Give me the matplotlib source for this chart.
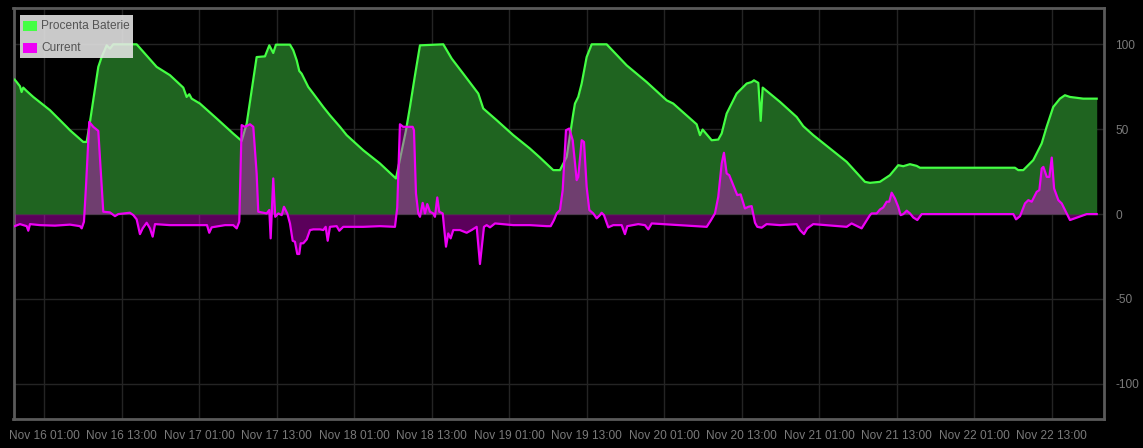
import matplotlib
matplotlib.use("Agg")
import matplotlib.pyplot as plt
from matplotlib.patches import Rectangle
import numpy as np

# hours since Nov 16 01:00
battery_hours = [-4.60, -4.29, -3.78, -3.52, -3.27, -2.74, -1.72, 0.87, 3.45, 3.96, 6.02, 6.55, 7.06,
                 8.35, 8.87, 9.65, 10.16, 10.67, 14.29, 17.39, 19.45, 21.51, 22.03, 22.44, 22.81,
                 24.09, 26.68, 29.25, 30.55, 31.33, 32.87, 34.16, 34.83, 35.44, 35.86, 38.03,
                 38.54, 39.07, 39.47, 39.84, 40.86, 41.64, 43.19, 44.22, 45.77, 46.81, 49.38,
                 51.97, 54.44, 56.00, 56.61, 57.39, 58.16, 61.77, 63.07, 64.86, 67.19, 67.96,
                 70.04, 72.61, 75.19, 76.74, 78.80, 79.84, 80.88, 81.90, 82.16, 82.67, 83.20,
                 83.97, 84.75, 87.07, 90.17, 93.26, 96.36, 97.38, 101.0, 101.52, 101.93, 103.33,
                 104.35, 104.88, 105.65, 107.20, 108.75, 109.52, 109.88, 110.55, 110.92, 111.23,
                 113.91, 116.49, 117.51, 119.06, 124.23, 127.06, 127.84, 129.38, 130.93, 132.22,
                 133.0, 134.03, 135.07, 135.58, 150.29, 150.80, 151.58, 153.13, 154.43, 155.20,
                 156.22, 157.26, 158.03, 158.81, 160.87, 162.95]
battery_pct = [79.2, 77.8, 75.3, 71.9, 74.5, 72.5, 69.0, 61.2, 51.4, 49.4, 42.5, 42.5, 54.3,
               86.7, 92.5, 99.4, 97.5, 100.0, 100.0, 86.7, 81.8, 74.5, 69.0, 70.6, 68.0,
               65.1, 56.3, 47.4, 43.1, 53.3, 92.5, 92.9, 99.4, 94.9, 99.8, 99.8,
               96.5, 90.6, 84.3, 82.7, 74.9, 71.0, 63.1, 58.2, 51.4, 46.5, 37.6,
               29.8, 21.0, 49.4, 63.1, 81.8, 99.4, 100.0, 91.6, 82.7, 71.0, 62.2,
               55.3, 46.5, 38.6, 33.3, 25.9, 25.9, 33.7, 59.2, 65.1, 69.0, 76.9,
               92.5, 100.0, 100.0, 87.6, 77.8, 67.0, 65.1, 52.9, 46.5, 49.8, 43.5,
               43.9, 47.5, 59.2, 71.0, 76.9, 77.8, 78.8, 77.3, 54.9, 74.5,
               66.1, 57.2, 51.8, 46.5, 30.8, 19.0, 18.4, 19.0, 22.9, 28.8,
               28.2, 29.4, 28.4, 27.3, 27.3, 25.9, 25.9, 31.8, 41.6, 51.4,
               63.1, 68.0, 70.0, 69.0, 68.0, 68.0]

current_hours = [-4.60, -3.78, -2.74, -2.49, -2.23, -0.68, 1.64, 3.96, 5.51, 5.78, 6.13, 6.44, 6.95,
                 7.57, 8.35, 8.76, 9.12, 10.16, 10.93, 11.44, 13.25, 13.77, 14.29, 14.80, 15.22,
                 15.84, 16.35, 16.77, 17.13, 19.45, 22.55, 25.18, 25.53, 25.91, 27.97, 29.25,
                 29.78, 30.18, 30.55, 31.06, 31.84, 32.35, 32.87, 33.12, 34.42, 34.83, 35.04,
                 35.44, 35.75, 36.22, 36.75, 37.10, 37.61, 38.03, 38.45, 38.80, 39.16, 39.47,
                 39.69, 40.09, 40.62, 41.13, 41.64, 42.68, 43.19, 43.56, 43.87, 44.22, 45.26,
                 45.67, 46.28, 49.38, 51.97, 54.29, 54.64, 55.06, 55.57, 57.03, 57.23, 57.54,
                 57.90, 58.16, 58.58, 58.94, 59.29, 59.71, 60.22, 60.48, 60.84, 61.15, 61.68,
                 62.19, 62.54, 62.91, 63.32, 64.35, 65.39, 66.16, 66.94, 67.45, 68.07, 68.49,
                 69.0, 69.78, 72.61, 75.19, 77.78, 78.40, 78.91, 79.33, 79.84, 80.26, 80.77,
                 81.28, 81.81, 82.43, 82.67, 83.20, 83.56, 83.97, 84.38, 84.99, 85.52, 86.03,
                 86.29, 86.65, 87.32, 88.09, 89.39, 89.90, 90.26, 91.96, 93.0, 93.51, 94.04,
                 98.42, 102.56, 103.17, 103.84, 104.35, 104.88, 105.23, 105.65, 106.05, 106.67,
                 107.29, 107.82, 108.48, 109.0, 109.52, 110.04, 110.39, 111.07, 111.84, 113.91,
                 116.49, 117.0, 117.62, 118.13, 119.06, 124.23, 125.0, 126.55, 127.84, 128.10,
                 128.88, 129.39, 129.90, 130.43, 130.83, 131.2, 131.71, 132.22, 132.59, 133.0,
                 133.53, 134.04, 134.55, 135.17, 135.85, 150.04, 150.46, 151.08, 151.85, 152.36,
                 152.89, 153.66, 154.07, 154.44, 154.69, 155.22, 155.62, 155.99, 156.35, 157.01,
                 157.53, 158.81, 161.40, 162.95]
current_val = [-7.1, -5.9, -7.1, -9.8, -5.9, -6.5, -6.8, -6.2, -7.1, -8.4, -4.5, 16.0, 54.3,
               51.4, 49.0, 23.9, 1.4, 1.0, -1.2, 0.0, 0.8, -0.6, -3.1, -11.8, -8.4,
               -5.1, -8.4, -13.3, -5.9, -6.5, -6.5, -6.5, -11.0, -7.8, -6.5, -6.5,
               -8.4, -4.5, 52.4, 51.4, 52.9, 51.4, 23.9, 1.4, 0.4, 2.4, -14.3,
               21.0, -1.6, 0.4, -0.6, 4.3, 0.4, -5.5, -15.7, -16.3, -23.5, -23.5,
               -17.2, -17.2, -14.9, -9.4, -9.0, -9.0, -9.4, -7.5, -15.7, -7.5, -7.1,
               -9.8, -7.5, -7.5, -7.1, -7.5, 3.9, 52.9, 51.4, 51.4, 49.4, 12.2,
               0.4, -1.6, 6.6, 0.4, 5.9, 1.4, 0.4, -1.6, 9.8, 1.4, 0.4,
               -19.2, -11.4, -14.3, -9.4, -9.4, -11.0, -9.4, -7.5, -29.4, -7.5, -6.5,
               -7.8, -5.5, -6.5, -6.5, -7.1, -7.1, -3.5, 0.4, 2.4, 14.1, 49.4,
               50.4, 43.5, 20.0, 21.9, 43.5, 42.5, 16.0, 2.4, 0.4, -2.5, -0.6,
               0.8, -0.6, -7.8, -6.5, -6.5, -11.8, -7.1, -5.9, -6.5, -9.0, -5.5,
               -6.5, -7.5, -3.9, 0.4, 10.2, 29.8, 36.1, 23.9, 22.9, 17.1,
               11.2, 11.6, 3.3, 4.3, 4.7, -5.1, -7.5, -8.0, -5.9, -6.5,
               -5.9, -9.4, -11.8, -8.4, -5.9, -7.5, -5.5, -8.4, -0.6, 0.4,
               0.4, 2.7, 3.9, 7.3, 7.3, 12.6, 9.2, 4.3, -0.6, 0.0,
               2.0, 0.4, -2.0, -3.5, 0.0, 0.0, -3.1, -1.2, 6.3, 8.2,
               7.3, 13.1, 14.1, 26.9, 27.8, 21.9, 21.9, 33.3, 15.1, 8.2,
               6.3, -3.5, 0.0, 0.0]

tick_hours = [0, 12, 24, 36, 48, 60, 72, 84, 96, 108, 120, 132, 144, 156]
tick_labels = ["Nov 16 01:00", "Nov 16 13:00", "Nov 17 01:00", "Nov 17 13:00",
               "Nov 18 01:00", "Nov 18 13:00", "Nov 19 01:00", "Nov 19 13:00",
               "Nov 20 01:00", "Nov 20 13:00", "Nov 21 01:00", "Nov 21 13:00",
               "Nov 22 01:00", "Nov 22 13:00"]
y_ticks = [-100, -50, 0, 50, 100]
series_names = ["Procenta Baterie", "Current"]

plt.rcParams['font.family'] = ['Liberation Sans', 'DejaVu Sans']
plt.rcParams['axes.unicode_minus'] = False

W, H = 1143, 448
fig = plt.figure(figsize=(W / 100, H / 100), dpi=100, facecolor='#000000')
ax = fig.add_axes([13.5 / W, (H - 418.5) / H, (1104 - 13.5) / W, (418.5 - 8.5) / H])
ax.set_facecolor('#000000')

green = '#44ff44'
magenta = '#ee00f6'

ax.fill_between(battery_hours, 0, battery_pct, color='#1f6420', lw=0, zorder=2)
ax.plot(battery_hours, battery_pct, color=green, lw=1.6, zorder=3, solid_joinstyle='round')
ax.fill_between(current_hours, 0, current_val, color='#f200f2', alpha=0.38, lw=0, zorder=4)
ax.plot(current_hours, current_val, color=magenta, lw=1.6, zorder=5, solid_joinstyle='round')

ax.set_xlim(-4.78, 164.08)
ax.set_ylim(-120.4, 121.1)
ax.set_xticks(tick_hours)
ax.set_xticklabels(tick_labels)
ax.set_yticks(y_ticks)
ax.yaxis.tick_right()
ax.tick_params(axis='both', length=0, colors='#7a7a7a', labelsize=8.6)
ax.tick_params(axis='x', pad=8)
ax.tick_params(axis='y', pad=8)
for lbl in ax.get_yticklabels():
    lbl.set_horizontalalignment('left')
ax.grid(True, color='#242424', lw=1, zorder=1)
ax.set_axisbelow(True)
for sp in ax.spines.values():
    sp.set_color('#5a5a5a')
    sp.set_linewidth(2)

# legend box (manual, in pixel-based figure coords)
def fx(px):
    return px / W
def fy(py):
    return (H - py) / H

fig.patches.append(Rectangle((fx(20), fy(58.3)), (132.7 - 20) / W, (58.3 - 15) / H,
                             transform=fig.transFigure, facecolor='#e6e6e6', alpha=0.88,
                             edgecolor='none', zorder=10))
for i, (name, col) in enumerate(zip(series_names, [green, magenta])):
    yc = 26 + 22.3 * i
    fig.patches.append(Rectangle((fx(22), fy(yc + 6.3)), 16 / W, 12.6 / H,
                                 transform=fig.transFigure, facecolor='#c8c8c8',
                                 edgecolor='none', zorder=11))
    fig.patches.append(Rectangle((fx(23.3), fy(yc + 5)), 13.4 / W, 10 / H,
                                 transform=fig.transFigure, facecolor=col,
                                 edgecolor='none', zorder=12))
    fig.text(fx(41), fy(yc), name, color='#545454', fontsize=8.6, va='center', ha='left',
             zorder=13)

fig.savefig('out.png', dpi=100, facecolor=fig.get_facecolor())
